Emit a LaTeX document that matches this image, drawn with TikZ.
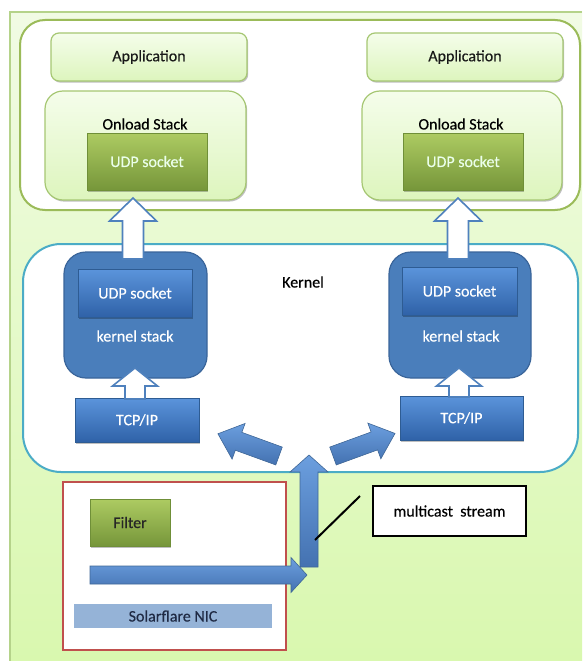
\documentclass[tikz,border=0pt]{standalone}
\usepackage{fontspec}
\setmainfont{Carlito}[FakeBold=0.35]
\usetikzlibrary{shadows}

\definecolor{bgtop}{HTML}{F1FBE4}
\definecolor{bgbot}{HTML}{D9F8AF}
\definecolor{bgline}{HTML}{B5D38A}
\definecolor{olive}{HTML}{9BBB59}
\definecolor{paletop}{HTML}{F5FDEB}
\definecolor{palebot}{HTML}{DDF5BD}
\definecolor{paleline}{HTML}{A6C773}
\definecolor{greentop}{HTML}{ADCB62}
\definecolor{greenbot}{HTML}{76963A}
\definecolor{greenline}{HTML}{6F8F38}
\definecolor{teal}{HTML}{4BACC6}
\definecolor{stackblue}{HTML}{4A7EBB}
\definecolor{stackline}{HTML}{3A659A}
\definecolor{bluetop}{HTML}{5B94DB}
\definecolor{bluebot}{HTML}{2F62A8}
\definecolor{blueline}{HTML}{2E5C93}
\definecolor{arrowline}{HTML}{4F81BD}
\definecolor{nicred}{HTML}{C0504D}
\definecolor{nicbar}{HTML}{95B3D7}
\definecolor{nictext}{HTML}{1F2A44}

\tikzset{
  every node/.style={font=\fontsize{16}{18}\selectfont, inner sep=0pt},
  softshadow/.style={drop shadow={shadow xshift=1.2pt, shadow yshift=-1.6pt, opacity=0.25, fill=black}},
  palebox/.style={draw=paleline, line width=1.2pt, top color=paletop, bottom color=palebot, text=black!90},
  greenbox/.style={draw=greenline, line width=0.6pt, top color=greentop, bottom color=greenbot, softshadow},
  bluebox/.style={draw=blueline, line width=0.6pt, top color=bluetop, bottom color=bluebot, text=white, softshadow},
  stackbox/.style={draw=stackline, line width=1.2pt, fill=stackblue, rounded corners=22pt},
  hollowarrow/.style={draw=arrowline, line width=1.6pt, fill=white, line join=miter},
  solidarrow/.style={draw=arrowline!80!black, line width=0.6pt, top color=bluetop!90!white, bottom color=bluebot!90!white},
  pics/blockarrow/.style n args={5}{code={
    \path[#5] (0,{-#2/2}) -- ({#1-#4},{-#2/2}) -- ({#1-#4},{-#3/2}) -- (#1,0)
      -- ({#1-#4},{#3/2}) -- ({#1-#4},{#2/2}) -- (0,{#2/2}) -- cycle;
  }}
}

\begin{document}
\begin{tikzpicture}[x=1pt,y=-1pt]
\useasboundingbox (0,0) rectangle (582,661);

% page background panel
\path[top color=bgtop, bottom color=bgbot] (10,12) rectangle (582,661);
\draw[bgline, line width=1.2pt] (10,661) -- (10,12) -- (582,12);

% user-space container
\node (user) [draw=olive, line width=2pt, fill=white, rounded corners=25pt,
  minimum width=560pt, minimum height=190pt] at (300,115) {};

\node (appA) [palebox, rounded corners=8pt, softshadow, minimum width=196pt, minimum height=48pt] at (149,57) {Application};
\node (appB) [palebox, rounded corners=8pt, softshadow, minimum width=196pt, minimum height=48pt] at (465,57) {Application};

\node (onA) [palebox, rounded corners=18pt, softshadow, minimum width=201pt, minimum height=109pt] at (145.5,145.5) {};
\node (onB) [palebox, rounded corners=18pt, softshadow, minimum width=200pt, minimum height=109pt] at (462,145.5) {};
\node (onAlabel) at (145,124) {Onload Stack};
\node (onBlabel) at (461,124) {Onload Stack};

\node (usockA) [greenbox, text=white!92!green, minimum width=120pt, minimum height=57pt] at (147,161.5) {UDP socket};
\node (usockB) [greenbox, text=white!92!green, minimum width=120pt, minimum height=57pt] at (463,161.5) {UDP socket};

% kernel container
\node (kernel) [draw=teal, line width=2pt, fill=white, rounded corners=38pt,
  minimum width=555pt, minimum height=228pt] at (300.5,358) {};
\node (kernlabel) at (303,282) {Kernel};

\node (ksA) [stackbox, minimum width=143pt, minimum height=126pt] at (135.5,315) {};
\node (ksB) [stackbox, minimum width=142pt, minimum height=126pt] at (460,315) {};

\node (ksockA) [bluebox, minimum width=114pt, minimum height=48pt] at (135,293) {UDP socket};
\node (ksockB) [bluebox, minimum width=115pt, minimum height=48pt] at (459.5,291) {UDP socket};
\node (kslabelA) [text=white] at (135,336) {kernel stack};
\node (kslabelB) [text=white] at (461,336) {kernel stack};

\node (tcpA) [bluebox, minimum width=124pt, minimum height=44pt] at (137,420) {TCP/IP};
\node (tcpB) [bluebox, minimum width=123pt, minimum height=44pt] at (461.5,418) {TCP/IP};

% hollow arrows: kernel stack -> onload socket, TCP/IP -> kernel stack
\pic[rotate=90] at (133,259) {blockarrow={61}{21}{47}{23}{hollowarrow}};
\pic[rotate=90] at (458,259) {blockarrow={61}{21}{47}{23}{hollowarrow}};
\pic[rotate=90] at (135,399) {blockarrow={31}{20}{45}{18}{hollowarrow}};
\pic[rotate=90] at (459,397) {blockarrow={29}{20}{45}{18}{hollowarrow}};

% NIC
\node (nic) [draw=nicred, line width=2pt, fill=white, minimum width=223pt, minimum height=168pt] at (174.5,566) {};
\node (filter) [greenbox, text=black!85, minimum width=80pt, minimum height=47pt] at (130,522.5) {Filter};
\node (nicbar) [fill=nicbar, text=nictext, minimum width=198pt, minimum height=24pt] at (173,616) {Solarflare NIC};

% multicast stream path
\pic[rotate=90] at (309,567) {blockarrow={112}{18}{38}{17}{solidarrow}};
\pic at (90,575) {blockarrow={217}{18}{35}{16}{solidarrow}};
\pic[rotate=160] at (279,456) {blockarrow={65}{19}{38}{22}{solidarrow}};
\pic[rotate=20] at (333,456) {blockarrow={66}{19}{38}{22}{solidarrow}};

% callout
\node (mcast) [draw=black, line width=2.4pt, fill=white, minimum width=153pt, minimum height=50pt] at (449.5,511) {multicast~ stream};
\coordinate (calloutA) at (360,496);
\coordinate (calloutB) at (315,540);
\draw[black, line width=2pt] (calloutA) -- (calloutB);

\end{tikzpicture}
\end{document}
